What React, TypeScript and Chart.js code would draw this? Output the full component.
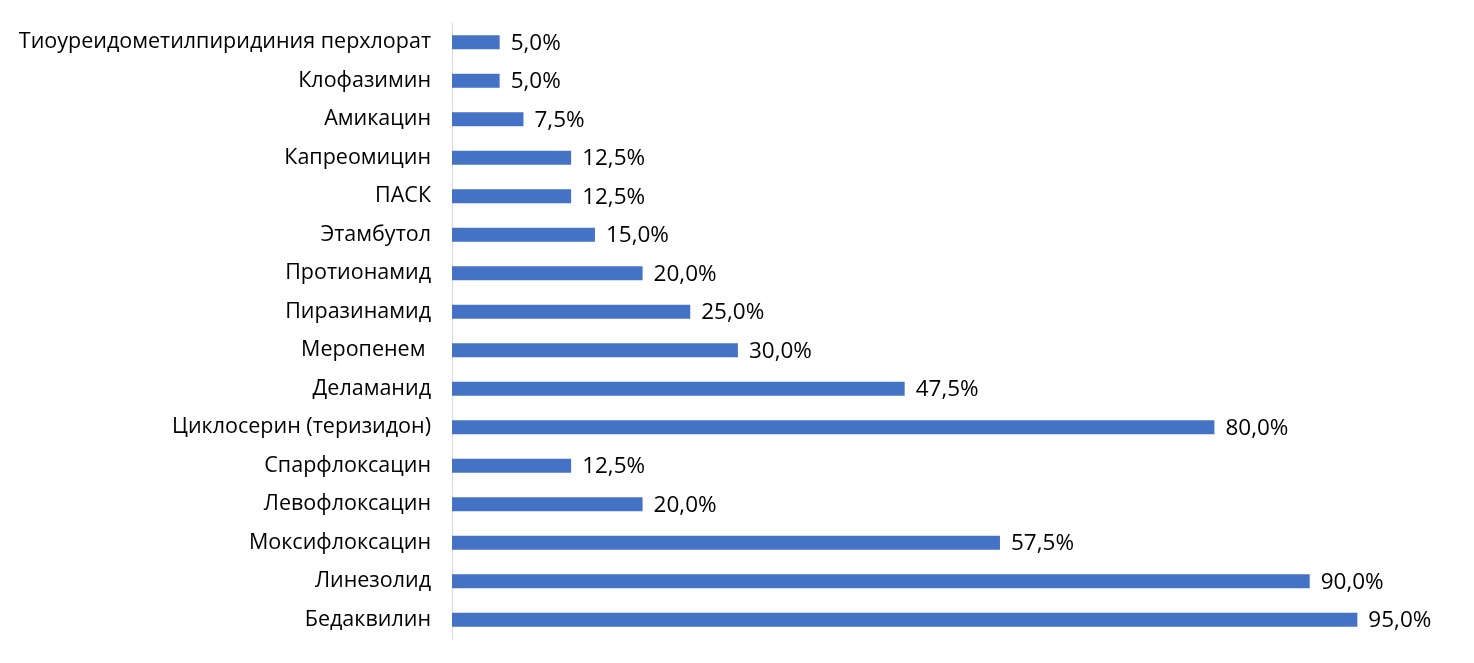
import React, { useEffect, useRef } from "react";
import { Chart, registerables } from "chart.js";

Chart.register(...registerables);

const categories: string[] = [
  "Тиоуреидометилпиридиния перхлорат",
  "Клофазимин",
  "Амикацин",
  "Капреомицин",
  "ПАСК",
  "Этамбутол",
  "Протионамид",
  "Пиразинамид",
  "Меропенем ",
  "Деламанид",
  "Циклосерин (теризидон)",
  "Спарфлоксацин",
  "Левофлоксацин",
  "Моксифлоксацин",
  "Линезолид",
  "Бедаквилин",
];

const values: number[] = [5, 5, 7.5, 12.5, 12.5, 15, 20, 25, 30, 47.5, 80, 12.5, 20, 57.5, 90, 95];

const FONT = "'Open Sans', sans-serif";
const TICK_SIZE = 21.5;
const VALUE_SIZE = 22.5;

const formatPct = (v: number) => v.toFixed(1).replace(".", ",") + "%";

const dataLabels = {
  id: "dataLabels",
  afterDatasetsDraw(chart: any) {
    const ctx = chart.ctx;
    const meta = chart.getDatasetMeta(0);
    ctx.save();
    ctx.font = `${VALUE_SIZE}px ${FONT}`;
    ctx.fillStyle = "#000000";
    ctx.textAlign = "left";
    ctx.textBaseline = "middle";
    meta.data.forEach((bar: any, i: number) => {
      ctx.fillText(formatPct(values[i]), bar.x + 11, bar.y + 1);
    });
    ctx.restore();
  },
};

export default function App() {
  const ref = useRef<HTMLCanvasElement | null>(null);

  useEffect(() => {
    if (!ref.current) return;
    const chart = new Chart(ref.current, {
      type: "bar",
      data: {
        labels: categories,
        datasets: [
          {
            data: values,
            backgroundColor: "#4472C4",
            borderWidth: 0,
            categoryPercentage: 1,
            barPercentage: 0.36,
          },
        ],
      },
      options: {
        indexAxis: "y",
        animation: false,
        responsive: true,
        maintainAspectRatio: false,
        layout: { padding: { left: 0, right: 69, top: 23, bottom: 24 } },
        plugins: {
          legend: { display: false },
          tooltip: { enabled: false },
        },
        scales: {
          x: {
            display: false,
            min: 0,
            max: 100,
          },
          y: {
            grid: { display: false, drawTicks: false },
            border: { display: true, color: "#d9d9d9", width: 1 },
            ticks: {
              color: "#000000",
              padding: 21,
              font: { family: FONT, size: TICK_SIZE },
              autoSkip: false,
            },
            afterFit(scale: any) {
              scale.width = 452;
              scale.paddingTop = 0;
              scale.paddingBottom = 0;
            },
          },
        },
      },
      plugins: [dataLabels],
    });
    return () => chart.destroy();
  }, []);

  return (
    <div style={{ position: "absolute", left: 0, top: 0, width: 1474, height: 663, background: "#fff" }}>
      <canvas ref={ref} />
    </div>
  );
}
